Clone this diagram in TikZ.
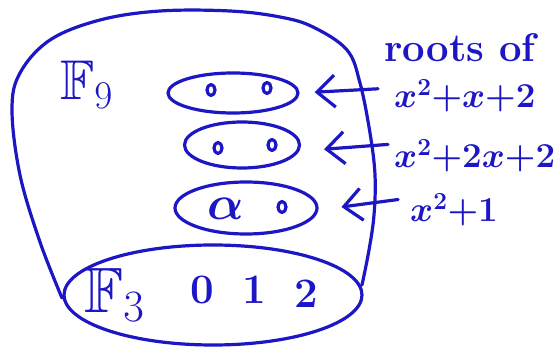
\documentclass[tikz,border=0pt]{standalone}
\usepackage{fix-cm}
\usepackage{amsmath,amssymb}
\usepackage{xcolor}
\usepackage{tikz}
\usetikzlibrary{arrows.meta,positioning,shapes.geometric}
\definecolor{inkblue}{RGB}{28,22,196}
\tikzset{
  ink/.style={draw=inkblue, line width=3.2pt, line cap=round, line join=round},
  ring/.style={ink, ellipse, inner sep=0pt},
  elem/.style={ink, ellipse, inner sep=0pt, minimum width=8pt, minimum height=11pt},
  hand/.style={text=inkblue, inner sep=0pt, font=\fontsize{42}{44}\selectfont\bfseries\boldmath},
  poly/.style={hand, anchor=base west, font=\fontsize{35}{38}\selectfont\boldmath},
  arr/.style={ink, -{Straight Barb[length=18pt, width=32pt]}}}
\begin{document}
\begin{tikzpicture}[x=1pt, y=-1pt]
  \useasboundingbox (0,0) rectangle (559,347);
  % the big field
  \draw[ink] plot[smooth, tension=0.6] coordinates {(62,298) (40,242) (20,175) (12,110) (20,73) (50,40) (100,20) (160,11) (230,11) (280,17) (313,27) (347,50) (360,83) (370,133) (375,175) (374,215) (369,250) (362,285)};
  \node[hand, anchor=base west, font=\fontsize{56}{60}\selectfont] (big) at (60,100) {$\mathbb{F}_9$};
  % the subfield
  \node[ring, minimum width=298pt, minimum height=100pt] (sub) at (213,295) {};
  \node[hand, anchor=base west, font=\fontsize{64}{66}\selectfont] (small) at (84,312) {$\mathbb{F}_3$};
  \node[hand, anchor=base] (d0) at (202,303) {$0$};
  \node[hand, anchor=base] (d1) at (254,303) {$1$};
  \node[hand, anchor=base] (d2) at (306,307) {$2$};
  % conjugate pairs
  \node[ring, minimum width=130pt, minimum height=40pt] (pair1) at (233,93) {};
  \node[ring, minimum width=115pt, minimum height=46pt] (pair2) at (242,145) {};
  \node[ring, minimum width=142pt, minimum height=52pt] (pair3) at (246,208) {};
  \node[elem] (p1a) at (211,90) {};
  \node[elem] (p1b) at (267,88) {};
  \node[elem] (p2a) at (218,148) {};
  \node[elem] (p2b) at (272,145) {};
  \node[hand, anchor=base, font=\fontsize{48}{50}\selectfont\boldmath] (alpha) at (226,220) {$\alpha$};
  \node[elem] (p3b) at (282,207) {};
  % polynomials
  \node[hand, anchor=base, font=\fontsize{40}{42}\selectfont\bfseries] (roots) at (460,62) {roots of};
  \node[poly] (poly1) at (394,108) {$x^2{+}x{+}2$};
  \node[poly] (poly2) at (394,168) {$x^2{+}2x{+}2$};
  \node[poly] (poly3) at (410,222) {$x^2{+}1$};
  \draw[arr, shorten <=16pt, shorten >=15pt] ([yshift=8pt]poly1.west) -- (pair1.east);
  \draw[arr, shorten <=6pt, shorten >=23pt] ([yshift=12pt]poly2.west) -- ([yshift=-6pt]pair2.east);
  \draw[arr, shorten <=12pt, shorten >=23pt] ([yshift=12pt]poly3.west) -- ([yshift=-2pt]pair3.east);
\end{tikzpicture}
\end{document}
